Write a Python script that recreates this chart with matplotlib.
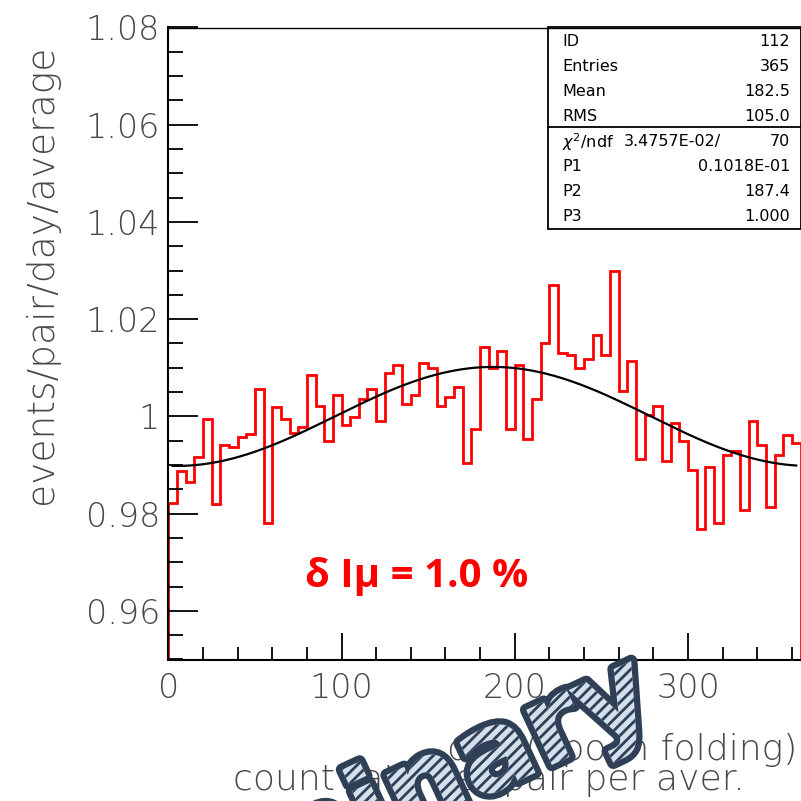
import numpy as np
import matplotlib
matplotlib.use("Agg")
from matplotlib import pyplot as plt
from matplotlib import patheffects as pe
from matplotlib.patches import Rectangle
from matplotlib.lines import Line2D

# histogram: 73 bins of 5 days, normalised count rate
edges = np.arange(0, 366, 5)
rate = [0.9822, 0.9887, 0.9865, 0.9917, 0.9995, 0.9819, 0.9942, 0.9937, 0.9958, 0.9963,
        1.0057, 0.9781, 1.0020, 0.9995, 0.9966, 0.9979, 1.0085, 1.0021, 0.9949, 1.0045,
        0.9983, 0.9999, 1.0036, 1.0057, 0.9990, 1.0089, 1.0106, 1.0026, 1.0045, 1.0110,
        1.0099, 1.0021, 1.0040, 1.0061, 0.9904, 0.9974, 1.0142, 1.0099, 1.0135, 0.9974,
        1.0106, 0.9954, 1.0036, 1.0152, 1.0270, 1.0131, 1.0127, 1.0099, 1.0118, 1.0168,
        1.0127, 1.0299, 1.0053, 1.0114, 0.9912, 1.0003, 1.0021, 0.9909, 0.9986, 0.9949,
        0.9889, 0.9769, 0.9896, 0.9781, 0.9921, 0.9928, 0.9807, 0.9991, 0.9942, 0.9814,
        0.9921, 0.9962, 0.9945]

# fit parameters from the stats box
p1, p2, p3 = 0.01018, 187.4, 1.000

stat_names = ["ID", "Entries", "Mean", "RMS"]
stat_vals = ["112", "365", "182.5", "105.0"]
fit_names = ["P1", "P2", "P3"]
fit_vals = ["0.1018E-01", "187.4", "1.000"]

W = H = 801
fig = plt.figure(figsize=(W / 100, H / 100), dpi=100)


def fx(px):
    return px / W


def fy(py):
    # image pixel row -> figure fraction
    return (H - py) / H


grey = "#484848"
ax_l, ax_r, ax_t, ax_b = 168.3, 800.5, 27.5, 659.5
ax = fig.add_axes([fx(ax_l), fy(ax_b), fx(ax_r - ax_l), (ax_b - ax_t) / H])

ax.stairs(rate, edges, color="red", lw=2.0)
xf = np.linspace(2.5, 362.5, 300)
ax.plot(xf, p3 + p1 * np.cos(2 * np.pi * (xf - p2) / 365), color="black", lw=1.6)

ax.set_xlim(0, 365)
ax.set_ylim(0.95, 1.08)
ax.set_xticks([0, 100, 200, 300])
ax.set_xticks(np.arange(0, 366, 20), minor=True)
ax.set_yticks([0.96, 0.98, 1.0, 1.02, 1.04, 1.06, 1.08])
ax.set_yticklabels(["0.96", "0.98", "1", "1.02", "1.04", "1.06", "1.08"])
ax.set_yticks(np.arange(0.95, 1.0801, 0.005), minor=True)
ax.tick_params(which="both", direction="in", top=False, right=False, colors="black",
               labelcolor=grey, labelsize=24, width=1.3)
ax.tick_params(axis="y", which="major", length=21.5, pad=6)
ax.tick_params(axis="y", which="minor", length=11)
ax.tick_params(axis="x", which="major", length=19.5, pad=9)
ax.tick_params(axis="x", which="minor", length=9.5)
for lab in ax.get_xticklabels() + ax.get_yticklabels():
    lab.set_fontweight("light")
for s in ["left", "bottom"]:
    ax.spines[s].set_linewidth(1.5)
ax.spines["top"].set_linewidth(1.0)
ax.spines["right"].set_color("#bbbbbb")

# stats box
fig.patches.append(Rectangle((fx(548), fy(229.3)), fx(ax_r - 548), (229.3 - ax_t) / H,
                             transform=fig.transFigure, fill=False, ec="black", lw=1.3))
fig.lines.append(Line2D([fx(548), fx(ax_r)], [fy(126.7), fy(126.7)],
                        transform=fig.transFigure, color="black", lw=1.3))
rows = list(zip(stat_names, stat_vals))
for i, (n, v) in enumerate(rows):
    y = fy(41.7 + 25 * i)
    fig.text(fx(562), y, n, fontsize=11.5, va="center", ha="left")
    fig.text(fx(790), y, v, fontsize=11.5, va="center", ha="right")
fig.text(fx(562), fy(141.7), r"$\chi^2$/ndf", fontsize=11.5, va="center", ha="left")
fig.text(fx(624), fy(141.7), "3.4757E-02/", fontsize=11.5, va="center", ha="left")
fig.text(fx(790), fy(141.7), "70", fontsize=11.5, va="center", ha="right")
for i, (n, v) in enumerate(zip(fit_names, fit_vals)):
    y = fy(166.7 + 25 * i)
    fig.text(fx(562), y, n, fontsize=11.5, va="center", ha="left")
    fig.text(fx(790), y, v, fontsize=11.5, va="center", ha="right")

# axis titles
fig.text(fx(42), fy(274), "events/pair/day/average", rotation=90, ha="center",
         va="center", fontsize=27, color=grey, fontweight="light")
fig.text(fx(797), fy(760), "day (epoch folding)", ha="right", va="baseline",
         fontsize=26, color=grey, fontweight="light")
fig.text(fx(745), fy(790), "count rate per pair per aver.", ha="right", va="baseline",
         fontsize=26, color=grey, fontweight="light")

# amplitude annotation
fig.text(fx(305), fy(576), "\u03b4 I\u03bc = 1.0 %", ha="left", va="center",
         fontsize=29, fontweight="bold", color="red", family="Open Sans")

# watermark
plt.rcParams["hatch.linewidth"] = 2.0
navy = "#2e3f56"
fig.text(fx(659), fy(715), "Preliminary", rotation=25, rotation_mode="anchor",
         ha="right", va="baseline", fontsize=80, fontweight="bold", color="#d3dfeb",
         path_effects=[pe.Stroke(linewidth=9, foreground=navy),
                       pe.PathPatchEffect(facecolor="#d3dfeb", edgecolor=navy,
                                          hatch="///", linewidth=0)])

fig.savefig("out.png", dpi=100)
